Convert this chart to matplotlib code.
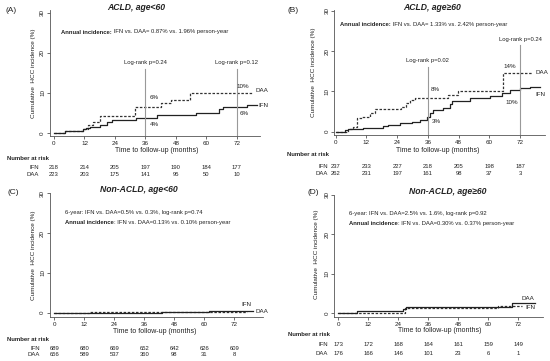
import matplotlib
matplotlib.use('Agg')
import matplotlib.pyplot as plt
from matplotlib.transforms import blended_transform_factory

plt.rcParams['font.family'] = ['Liberation Sans', 'DejaVu Sans']

W, H = 550, 361
ticks = [0, 12, 24, 36, 48, 60, 72]

# ---- (A) ACLD, age<60 ----
a_ifn_t = [0, 4.3, 11.5, 12.6, 14.2, 18, 21, 22.7, 32.3, 40.4, 55.9, 65, 66.7, 76, 80]
a_ifn_y = [0, 0.5, 0.9, 1.2, 1.6, 2.0, 2.7, 3.25, 3.8, 4.4, 5.1, 5.9, 6.4, 7.1, 7.1]
a_daa_t = [0, 4.3, 11.5, 13.5, 15.5, 18, 32, 42, 46, 53.5, 78.5]
a_daa_y = [0, 0.4, 0.9, 2.0, 2.8, 4.2, 6.6, 7.6, 8.3, 9.9, 9.9]
risk_a_ifn = [218, 214, 205, 197, 190, 184, 177]
risk_a_daa = [223, 203, 175, 141, 95, 50, 10]

# ---- (B) ACLD, age>=60 ----
b_ifn_t = [0, 3.6, 4.9, 10.8, 18.6, 20.6, 25, 29.7, 32.9, 35.5, 36.7, 38.1, 42, 44.6,
           45.5, 52.4, 60.3, 64.8, 68, 72, 75.9, 79.8]
b_ifn_y = [0, 0.4, 0.7, 1.0, 1.3, 1.65, 2.1, 2.5, 2.9, 3.6, 4.6, 5.4, 6.0, 6.8,
           7.6, 8.45, 8.9, 9.5, 10.4, 10.8, 11.2, 11.2]
b_daa_t = [0, 4.9, 6.9, 8.2, 10.1, 13.4, 15.3, 25.7, 27.5, 29, 31, 43.9, 47.9, 65.2, 76.5]
b_daa_y = [0, 0.6, 1.25, 3.3, 3.7, 4.6, 5.6, 6.2, 7.0, 7.9, 8.3, 9.2, 10.1, 14.5, 14.5]
risk_b_ifn = [237, 233, 227, 218, 205, 198, 187]
risk_b_daa = [262, 231, 197, 161, 98, 37, 3]

# ---- (C) Non-ACLD, age<60 ----
c_ifn_t = [0, 43, 62, 79.5]
c_ifn_y = [0, 0.15, 0.45, 0.45]
c_daa_t = [0, 6, 14, 28, 62, 77]
c_daa_y = [0, 0.05, 0.15, 0.2, 0.3, 0.3]
risk_c_ifn = [689, 680, 669, 652, 642, 626, 609]
risk_c_daa = [656, 589, 537, 360, 98, 31, 8]

# ---- (D) Non-ACLD, age>=60 ----
d_ifn_t = [0, 7.4, 25.9, 27, 69.5, 78.7]
d_ifn_y = [0, 0.5, 0.9, 1.35, 2.4, 2.4]
d_daa_t = [0, 26.5, 64, 73.5]
d_daa_y = [0, 1.2, 1.65, 1.65]
risk_d_ifn = [173, 172, 168, 164, 161, 159, 149]
risk_d_daa = [176, 166, 146, 101, 23, 6, 1]

TXT = '#222222'
fig = plt.figure(figsize=(W / 100, H / 100), dpi=100)


def ftext(x, y, s, **kw):
    kw.setdefault('color', TXT)
    return fig.text(x / W, 1 - y / H, s, **kw)


def make_axes(l, r, t, b, x0, pxm, y0, pxp):
    # l/r/t/b: spine extents in pixels, x0/y0: pixel of month 0 / 0 %
    ax = fig.add_axes([l / W, 1 - b / H, (r - l) / W, (b - t) / H])
    ax.set_xlim((l - x0) / pxm, (r - x0) / pxm)
    ax.set_ylim((y0 - b) / pxp, (y0 - t) / pxp)
    ax.patch.set_alpha(0)
    for s in ['top', 'right']:
        ax.spines[s].set_visible(False)
    for s in ['left', 'bottom']:
        ax.spines[s].set_color('#555555')
        ax.spines[s].set_linewidth(0.6)
    ax.set_xticks(ticks)
    ax.set_yticks([0, 10, 20, 30])
    ax.tick_params(length=2, width=0.6, colors='#555555', labelsize=4.5,
                   labelcolor=TXT, pad=1.5)
    for lab in ax.get_yticklabels():
        lab.set_rotation(90)
        lab.set_va('center')
    return ax


def curves(ax, it, iy, dt, dy):
    ax.step(dt, dy, where='post', color='#333333', lw=0.9, ls=(0, (2, 1.3)))
    ax.step(it, iy, where='post', color='#222222', lw=0.9)


def annual(ax, x, y, bold, rest):
    t1 = ax.text(x, y, bold, fontsize=4.2, weight='bold', color=TXT, va='center')
    ax.annotate(rest, xy=(1, 0), xycoords=t1, va='bottom', ha='left',
                fontsize=4.2, color=TXT)


def risk_table(ax, xl, yh, y1, y2, ifn, daa):
    ftext(xl, yh, 'Number at risk', fontsize=4.3, weight='bold', va='center')
    tr = blended_transform_factory(ax.transData, fig.transFigure)
    for yy, name, vals in [(y1, 'IFN', ifn), (y2, 'DAA', daa)]:
        ftext(ax_x0[ax] - 15, yy, name, fontsize=4.3, ha='right', va='center')
        for t, v in zip(ticks, vals):
            ax.text(t, 1 - yy / H, str(v), transform=tr, fontsize=4.2,
                    ha='center', va='center', color=TXT)


ax_x0 = {}
ylab = 'Cumulative  HCC incidence (%)'
xlab = 'Time to follow-up (months)'

# Panel A
axA = make_axes(50, 260, 10, 136, 54, 2.54, 133, 4.0)
ax_x0[axA] = 54
curves(axA, a_ifn_t, a_ifn_y, a_daa_t, a_daa_y)
for xv in [36, 72]:
    axA.plot([xv, xv], [axA.get_ylim()[0], 15.9], color='#999999', lw=0.8)
axA.text(36, 17.6, 'Log-rank p=0.24', fontsize=4.2, ha='center', va='center', color=TXT)
axA.text(72, 17.6, 'Log-rank p=0.12', fontsize=4.2, ha='center', va='center', color=TXT)
for (x, y, s) in [(39.4, 8.9, '6%'), (39.4, 2.0, '4%'), (74.3, 11.75, '10%'),
                  (75, 4.9, '6%'), (82, 10.75, 'DAA'), (82.3, 6.75, 'IFN')]:
    axA.text(x, y, s, fontsize=4.5, ha='center', va='center', color=TXT, clip_on=False)
annual(axA, 2.8, 25.25, 'Annual incidence:', ' IFN vs. DAA= 0.87% vs. 1.96% person-year')
ftext(5, 10, '(A)', fontsize=6, va='center')
ftext(136, 7, 'ACLD, age<60', fontsize=6.2, weight='bold', style='italic',
      ha='center', va='center')
ftext(157, 150, xlab, fontsize=5, ha='center', va='center')
ftext(33, 73, ylab, fontsize=4.6, rotation=90, ha='center', va='center')
risk_table(axA, 7, 159, 167.7, 174.3, risk_a_ifn, risk_a_daa)

# Panel B
axB = make_axes(334.3, 545, 10, 135, 335.7, 2.56, 131.7, 4.03)
ax_x0[axB] = 343
curves(axB, b_ifn_t, b_ifn_y, b_daa_t, b_daa_y)
axB.plot([36, 36], [axB.get_ylim()[0], 16.1], color='#999999', lw=0.8)
axB.plot([72, 72], [axB.get_ylim()[0], 21.5], color='#999999', lw=0.8)
axB.text(36, 17.6, 'Log-rank p=0.02', fontsize=4.2, ha='center', va='center', color=TXT)
axB.text(72, 22.9, 'Log-rank p=0.24', fontsize=4.2, ha='center', va='center', color=TXT)
for (x, y, s) in [(38.8, 10.5, '8%'), (39.4, 2.5, '3%'), (68.1, 16.1, '14%'),
                  (68.7, 7.2, '10%'), (80.5, 14.7, 'DAA'), (79.8, 9.35, 'IFN')]:
    axB.text(x, y, s, fontsize=4.5, ha='center', va='center', color=TXT, clip_on=False)
annual(axB, 1.7, 26.6, 'Annual incidence:', ' IFN vs. DAA= 1.33% vs. 2.42% person-year')
ftext(287, 10, '(B)', fontsize=6, va='center')
ftext(431.7, 8, 'ACLD, age\u226560', fontsize=6.2, weight='bold', style='italic',
      ha='center', va='center')
ftext(438, 150, xlab, fontsize=5, ha='center', va='center')
ftext(313, 72, ylab, fontsize=4.6, rotation=90, ha='center', va='center')
risk_table(axB, 287, 155, 166, 173.3, risk_b_ifn, risk_b_daa)

# Panel C
axC = make_axes(50, 263, 193.3, 316.7, 54.3, 2.5, 312.7, 4.0)
ax_x0[axC] = 55
curves(axC, c_ifn_t, c_ifn_y, c_daa_t, c_daa_y)
axC.text(77, 2.1, 'IFN', fontsize=4.5, ha='center', va='center', color=TXT, clip_on=False)
axC.text(83, 0.25, 'DAA', fontsize=4.5, ha='center', va='center', color=TXT, clip_on=False)
axC.text(4.3, 25.25, '6-year: IFN vs. DAA=0.5% vs. 0.3%, log-rank p=0.74',
         fontsize=4.2, va='center', color=TXT)
annual(axC, 4.3, 22.75, 'Annual incidence', ': IFN vs. DAA=0.13% vs. 0.10% person-year')
ftext(8, 193, '(C)', fontsize=6, va='center')
ftext(139, 190, 'Non-ACLD, age<60', fontsize=6.2, weight='bold', style='italic',
      ha='center', va='center')
ftext(155, 331.7, xlab, fontsize=5, ha='center', va='center')
ftext(33, 255, ylab, fontsize=4.6, rotation=90, ha='center', va='center')
risk_table(axC, 7, 339.3, 348.3, 355, risk_c_ifn, risk_c_daa)

# Panel D
axD = make_axes(334.3, 543, 195, 316.7, 338.3, 2.5, 312.7, 4.0)
ax_x0[axD] = 343
curves(axD, d_ifn_t, d_ifn_y, d_daa_t, d_daa_y)
axD.text(76, 3.75, 'DAA', fontsize=4.5, ha='center', va='center', color=TXT, clip_on=False)
axD.text(76.7, 1.35, 'IFN', fontsize=4.5, ha='center', va='center', color=TXT, clip_on=False)
axD.text(4.3, 25.2, '6-year: IFN vs. DAA=2.5% vs. 1.6%, log-rank p=0.92',
         fontsize=4.2, va='center', color=TXT)
annual(axD, 4.3, 22.7, 'Annual incidence', ': IFN vs. DAA=0.30% vs. 0.37% person-year')
ftext(307, 193, '(D)', fontsize=6, va='center')
ftext(448, 191.5, 'Non-ACLD, age\u226560', fontsize=6.2, weight='bold', style='italic',
      ha='center', va='center')
ftext(440, 330, xlab, fontsize=5, ha='center', va='center')
ftext(316.7, 254, ylab, fontsize=4.6, rotation=90, ha='center', va='center')
risk_table(axD, 288.3, 334.3, 344.3, 353.3, risk_d_ifn, risk_d_daa)

fig.savefig('out.png', dpi=100, facecolor='white')
